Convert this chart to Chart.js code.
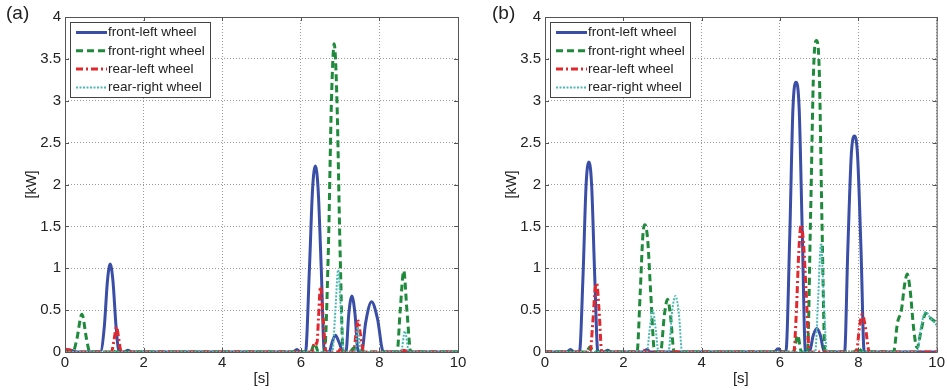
<!DOCTYPE html>
<html>
<head>
<meta charset="utf-8">
<script src="https://cdn.jsdelivr.net/npm/chart.js@4.4.1/dist/chart.umd.min.js"></script>
<style>
  body { margin: 0; background: #fff; }
  .panel { position: absolute; top: 0; height: 390px; }
</style>
</head>
<body>
<div class="panel" style="left:0;width:470px"><canvas id="chartA"></canvas></div>
<div class="panel" style="left:477px;width:470px"><canvas id="chartB"></canvas></div>
<script>
(function () {
  "use strict";

  var seriesNames = ["front-left wheel", "front-right wheel", "rear-left wheel", "rear-right wheel"];
  var xTicks = [0, 2, 4, 6, 8, 10];
  var yTicks = [0, 0.5, 1, 1.5, 2, 2.5, 3, 3.5, 4];

  // panel (a): [time s, power kW]
  var frontLeftA = [[0,0.03],[0.15,0.02],[0.3,0],[0.9,0],[1.0,0.3],[1.08,0.85],[1.15,1.05],[1.22,0.85],[1.3,0.3],[1.38,0],[1.5,0],[1.6,0.02],[1.7,0],
    [5.8,0],[5.9,0.03],[6.0,0],[6.12,0],[6.22,1.0],[6.3,1.95],[6.37,2.22],[6.44,1.95],[6.52,1.0],[6.6,0],[6.72,0],[6.8,0.12],[6.88,0.2],[6.97,0.12],[7.08,0],
    [7.15,0],[7.22,0.45],[7.3,0.67],[7.38,0.45],[7.46,0],[7.55,0],[7.65,0.35],[7.8,0.6],[7.95,0.4],[8.1,0],[10,0]];
  var frontRightA = [[0,0],[0.2,0],[0.3,0.15],[0.43,0.45],[0.55,0.15],[0.63,0],[1.1,0],[1.2,0.02],[1.3,0],[6.25,0],[6.35,0.1],[6.45,0],
    [6.6,0],[6.7,1.2],[6.78,3.0],[6.85,3.68],[6.92,3.0],[7.0,1.2],[7.08,0],[7.25,0],[7.35,0.05],[7.45,0],[8.45,0],[8.53,0.5],[8.62,0.97],[8.7,0.5],[8.8,0],[10,0]];
  var rearLeftA = [[0,0.03],[0.15,0.02],[0.25,0],[1.18,0],[1.25,0.15],[1.31,0.3],[1.37,0.15],[1.43,0],[6.28,0],[6.36,0.12],[6.41,0.1],[6.45,0.4],[6.5,0.78],
    [6.57,0.4],[6.64,0],[6.95,0],[7.0,0.03],[7.05,0],[7.35,0],[7.4,0.2],[7.46,0.37],[7.52,0.2],[7.6,0],[8.5,0],[8.6,0.02],[8.8,0],[10,0]];
  var rearRightA = [[0,0],[6.8,0],[6.88,0.5],[6.95,0.98],[7.02,0.5],[7.1,0],[7.38,0],[7.45,0.3],[7.52,0],[8.55,0],[8.65,0.25],[8.75,0],[10,0]];

  // panel (b)
  var frontLeftB = [[0,0],[0.55,0],[0.65,0.03],[0.75,0],[0.88,0],[0.97,0.9],[1.05,2.0],[1.12,2.27],[1.19,2.0],[1.27,0.9],[1.35,0],[1.5,0],[1.6,0.02],[1.7,0],
    [2.5,0],[2.6,0.03],[2.7,0],[5.85,0],[5.95,0.04],[6.05,0],[6.15,0],[6.25,1.4],[6.33,2.9],[6.41,3.22],[6.49,2.9],[6.57,1.4],[6.65,0],[6.75,0],[6.85,0.2],
    [6.94,0.28],[7.03,0.2],[7.13,0],[7.65,0],[7.73,1.2],[7.82,2.35],[7.9,2.58],[7.98,2.35],[8.07,1.2],[8.15,0],[10,0]];
  var frontRightB = [[0,0],[1.05,0],[1.15,0.06],[1.25,0],[2.35,0],[2.43,0.7],[2.5,1.4],[2.55,1.52],[2.62,1.35],[2.7,0.7],[2.8,0],[2.95,0],[3.05,0.45],
    [3.13,0.63],[3.2,0.45],[3.3,0],[6.35,0],[6.45,0.2],[6.55,0],[6.7,0],[6.78,1.6],[6.86,3.4],[6.93,3.72],[7.0,3.4],[7.07,1.6],[7.15,0],[7.9,0],[8.0,0.05],
    [8.1,0],[8.9,0],[9.0,0.35],[9.1,0.5],[9.18,0.8],[9.25,0.93],[9.32,0.75],[9.42,0.25],[9.5,0.05],[9.6,0.25],[9.72,0.46],[9.85,0.4],[10,0.35]];
  var rearLeftB = [[0,0],[1.15,0],[1.22,0.35],[1.28,0.75],[1.32,0.82],[1.38,0.5],[1.45,0],[2.4,0],[2.5,0.02],[2.6,0],[6.35,0],[6.42,0.5],[6.48,1.2],
    [6.54,1.52],[6.6,1.3],[6.67,0.7],[6.75,0],[7.95,0],[8.03,0.3],[8.1,0.45],[8.18,0.3],[8.28,0],[10,0]];
  var rearRightB = [[0,0],[2.6,0],[2.68,0.3],[2.75,0.5],[2.82,0.3],[2.9,0],[3.15,0],[3.25,0.5],[3.33,0.67],[3.42,0.45],[3.5,0],[6.9,0],[6.97,0.6],
    [7.05,1.3],[7.12,0.6],[7.2,0],[9.5,0],[9.6,0.3],[9.72,0.48],[9.85,0.4],[10,0.32]];

  var styles = [
    { color: "#3a4ea6", width: 3, dash: [] },
    { color: "#1f8a3b", width: 3, dash: [7, 4] },
    { color: "#e2282d", width: 3, dash: [7, 3, 2, 3] },
    { color: "#4bb9b4", width: 2, dash: [2, 1.5] }
  ];
  var font = "'Liberation Sans', Arial, sans-serif";

  function toPoints(pairs) {
    return pairs.map(function (p) { return { x: p[0], y: p[1] }; });
  }

  // box, inward ticks, legend and panel letter
  var decorPlugin = {
    id: "decor",
    afterDraw: function (chart) {
      var ctx = chart.ctx, a = chart.chartArea;
      var xs = chart.scales.x, ys = chart.scales.y;
      ctx.save();
      ctx.strokeStyle = "#555";
      ctx.lineWidth = 1;
      ctx.setLineDash([]);
      ctx.strokeRect(a.left + 0.5, a.top + 0.5, a.right - a.left, a.bottom - a.top);
      ctx.beginPath();
      xTicks.forEach(function (v) {
        var px = Math.round(xs.getPixelForValue(v)) + 0.5;
        ctx.moveTo(px, a.bottom); ctx.lineTo(px, a.bottom - 4);
        ctx.moveTo(px, a.top); ctx.lineTo(px, a.top + 4);
      });
      yTicks.forEach(function (v) {
        var py = Math.round(ys.getPixelForValue(v)) + 0.5;
        ctx.moveTo(a.left, py); ctx.lineTo(a.left + 4, py);
        ctx.moveTo(a.right, py); ctx.lineTo(a.right - 4, py);
      });
      ctx.stroke();

      // legend
      var bx = a.left + 5, by = a.top + 5, bw = 140, bh = 75;
      ctx.fillStyle = "#fff";
      ctx.fillRect(bx, by, bw, bh);
      ctx.strokeStyle = "#444";
      ctx.strokeRect(bx + 0.5, by + 0.5, bw, bh);
      ctx.font = "13.5px " + font;
      ctx.textBaseline = "middle";
      seriesNames.forEach(function (name, i) {
        var ry = by + 10.5 + i * 18.3;
        var s = styles[i];
        ctx.beginPath();
        ctx.strokeStyle = s.color;
        ctx.lineWidth = s.width;
        ctx.setLineDash(s.dash);
        ctx.moveTo(bx + 6, ry); ctx.lineTo(bx + 37, ry);
        ctx.stroke();
        ctx.fillStyle = "#222";
        ctx.fillText(name, bx + 38, ry);
      });

      ctx.font = "19px " + font;
      ctx.fillStyle = "#222";
      ctx.textBaseline = "middle";
      ctx.fillText(chart.options.plugins.decor.letter, chart.options.plugins.decor.letterX, 14);
      ctx.restore();
    }
  };

  function makeChart(id, letter, letterX, axisWidth, padRight, series) {
    var datasets = series.map(function (pairs, i) {
      return {
        label: seriesNames[i],
        data: toPoints(pairs),
        borderColor: styles[i].color,
        borderWidth: styles[i].width,
        borderDash: styles[i].dash,
        pointRadius: 0,
        fill: false,
        cubicInterpolationMode: "monotone",
        order: 4 - i
      };
    });
    return new Chart(document.getElementById(id), {
      type: "line",
      data: { datasets: datasets },
      options: {
        responsive: true,
        maintainAspectRatio: false,
        animation: false,
        layout: { padding: { top: 17, right: padRight, bottom: 0, left: 0 } },
        plugins: {
          legend: { display: false },
          tooltip: { enabled: false },
          decor: { letter: letter, letterX: letterX }
        },
        scales: {
          x: {
            type: "linear", min: 0, max: 10,
            afterFit: function (s) { s.height = 38; },
            ticks: { stepSize: 2, padding: 2, color: "#222", font: { family: font, size: 15 } },
            grid: { color: "#9a9a9a", drawTicks: false },
            border: { display: false, dash: [1, 2] },
            title: { display: true, text: "[s]", color: "#222", padding: { top: 0, bottom: 2 }, font: { family: font, size: 15 } }
          },
          y: {
            min: 0, max: 4,
            afterFit: function (s) { s.width = axisWidth; },
            ticks: {
              stepSize: 0.5, padding: 4, color: "#222", font: { family: font, size: 15 },
              callback: function (v) { return String(+v.toFixed(1)); }
            },
            grid: { color: "#9a9a9a", drawTicks: false },
            border: { display: false, dash: [1, 2] },
            title: { display: true, text: "[kW]", color: "#222", padding: { top: axisWidth - 41, bottom: 0 }, font: { family: font, size: 14 } }
          }
        }
      },
      plugins: [decorPlugin]
    });
  }

  makeChart("chartA", "(a)", 6, 65, 12, [frontLeftA, frontRightA, rearLeftA, rearRightA]);
  makeChart("chartB", "(b)", 15, 68, 9, [frontLeftB, frontRightB, rearLeftB, rearRightB]);
})();
</script>
</body>
</html>
